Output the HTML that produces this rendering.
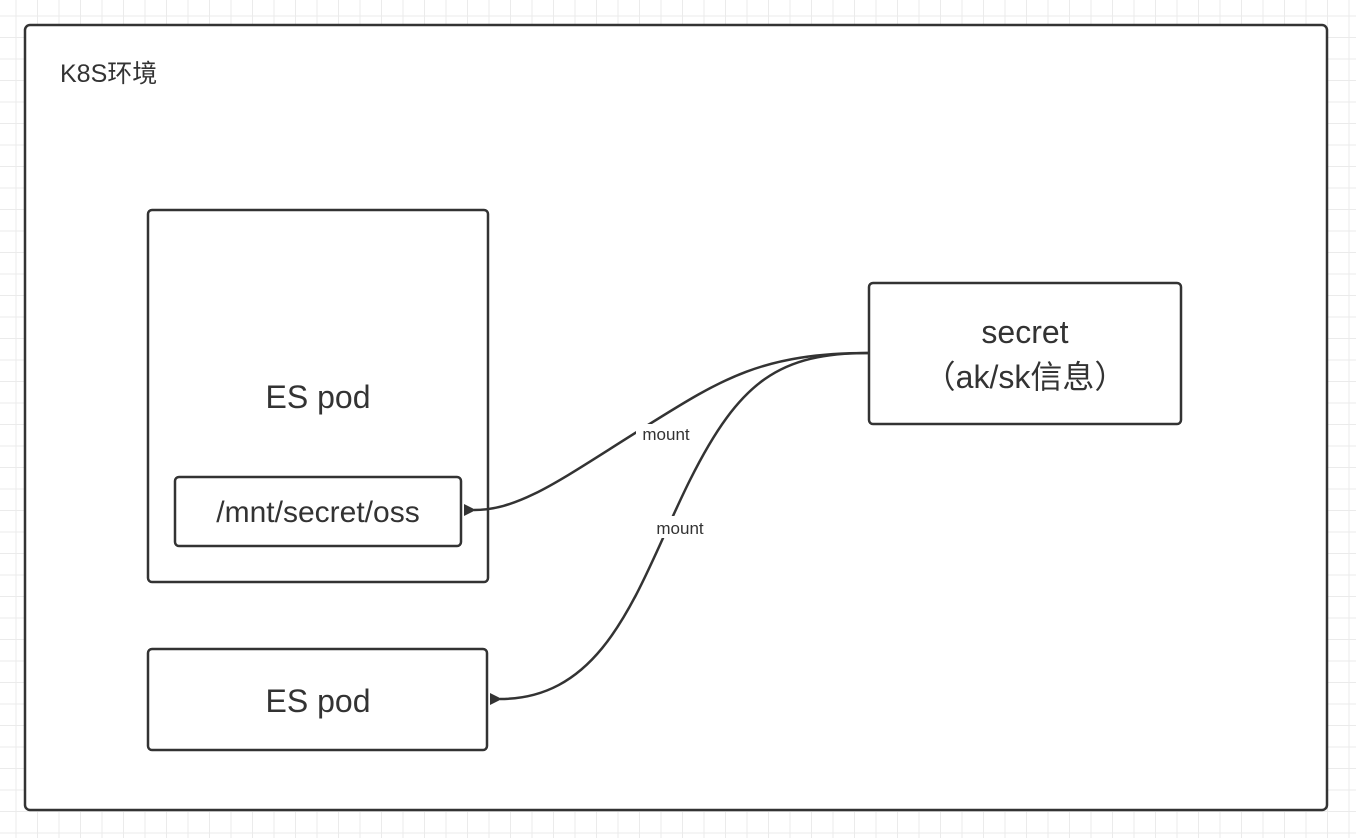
<!DOCTYPE html>
<html><head><meta charset="utf-8"><style>
html,body{margin:0;padding:0;width:1356px;height:838px;overflow:hidden;background:#fff;
background-image:linear-gradient(#ebebeb 1px,transparent 1px),linear-gradient(90deg,#ebebeb 1px,transparent 1px);background-size:21.5px 21.5px;background-position:-6px -6px;}
svg{position:absolute;left:0;top:0}
text{font-family:"Liberation Sans","Noto Sans CJK SC",sans-serif;fill:#333}
</style></head><body>
<svg width="1356" height="838" viewBox="0 0 1356 838">
<defs><marker id="a" markerWidth="12" markerHeight="12" refX="2" refY="6" orient="auto" markerUnits="userSpaceOnUse"><path d="M12,0 L0,6 L12,12 z" fill="#333"/></marker></defs>
<rect x="25" y="25" width="1302" height="785" rx="5" fill="#fff" stroke="#333" stroke-width="2.5"/>
<text x="60" y="82" font-size="25">K8S环境</text>
<rect x="148" y="210" width="340" height="372" rx="4" fill="#fff" stroke="#333" stroke-width="2.5"/>
<text x="318" y="408" font-size="32" text-anchor="middle">ES pod</text>
<rect x="175" y="477" width="286" height="69" rx="4" fill="#fff" stroke="#333" stroke-width="2.5"/>
<text x="318" y="522" font-size="30" text-anchor="middle">/mnt/secret/oss</text>
<rect x="148" y="649" width="339" height="101" rx="4" fill="#fff" stroke="#333" stroke-width="2.5"/>
<text x="318" y="712" font-size="32" text-anchor="middle">ES pod</text>
<rect x="869" y="283" width="312" height="141" rx="4" fill="#fff" stroke="#333" stroke-width="2.5"/>
<text x="1025" y="343" font-size="32" text-anchor="middle">secret</text>
<text x="1025" y="388" font-size="32" text-anchor="middle">（ak/sk信息）</text>
<path d="M869,353 C760,353 720,380 640,430 C560,480 520,510 474,510" fill="none" stroke="#333" stroke-width="2.5" marker-end="url(#a)"/>
<path d="M869,353 C780,353 740,380 690,480 C640,580 610,699 500,699" fill="none" stroke="#333" stroke-width="2.5" marker-end="url(#a)"/>
<rect x="636" y="424" width="60" height="20" fill="#fff"/>
<text x="666" y="440" font-size="17" text-anchor="middle">mount</text>
<rect x="650" y="516" width="60" height="22" fill="#fff"/>
<text x="680" y="534" font-size="17" text-anchor="middle">mount</text>
</svg>
</body></html>
